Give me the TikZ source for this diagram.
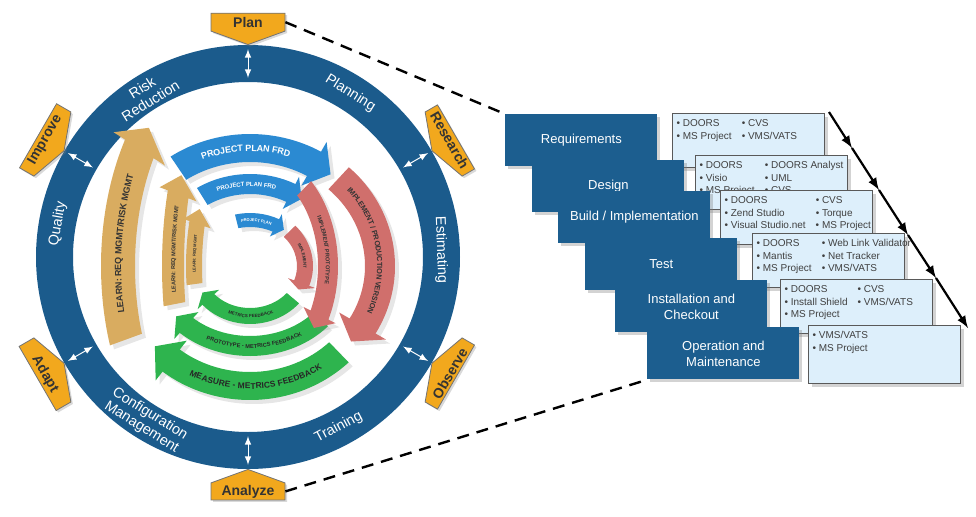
\documentclass[tikz,border=0pt]{standalone}
\usepackage{fontspec}
\setmainfont{Liberation Sans}
\usetikzlibrary{shapes.symbols, arrows, shadows, decorations.text}

\definecolor{ringblue}{HTML}{1B5B8C}
\definecolor{stageblue}{HTML}{1C5E8F}
\definecolor{tagorange}{HTML}{F2A81D}
\definecolor{toolfill}{HTML}{DDEFFB}
\definecolor{planblue}{HTML}{2B8AD2}
\definecolor{buildred}{HTML}{D06F6C}
\definecolor{metricgreen}{HTML}{2EB44E}
\definecolor{learntan}{HTML}{D9AC60}

% curved band arrow: colour, x radius, y radius, half width, start, end, tip
\newcommand{\bandarrow}[7]{%
  \fill[#1, arrowshadow]
    (#5:{#2+#4} and {#3+#4}) arc[start angle=#5, end angle=#6, x radius={#2+#4}, y radius={#3+#4}]
    -- (#6:{#2+1.8*#4} and {#3+1.8*#4}) -- (#7:#2 and #3)
    -- (#6:{#2-1.8*#4} and {#3-1.8*#4}) -- (#6:{#2-#4} and {#3-#4})
    arc[start angle=#6, end angle=#5, x radius={#2-#4}, y radius={#3-#4}] -- cycle;}
% text on a band: x radius, y radius, from, to, raise, format, text
\newcommand{\bandtext}[7]{%
  \path[decorate, decoration={text along path, text align=center, raise=#5, text={|#6|#7}}]
    (#3:#1 and #2) arc[start angle=#3, end angle=#4, x radius=#1, y radius=#2];}
\newcommand{\toollist}[2][23pt]{\parbox[c][#1][t]{72pt}{\fontsize{5}{6.3}\selectfont
  \begin{tabular}{@{}l@{\hspace{5pt}}l@{}}#2\end{tabular}}}

\begin{document}
\begin{tikzpicture}[x=.5pt, y=.5pt]

\tikzstyle{ringlabel} = [text=white, font=\fontsize{7.2}{7.8}\selectfont, align=center, inner sep=1pt]
\tikzstyle{tag} = [shape=signal, signal from=nowhere, signal pointer angle=140, fill=tagorange, draw=black!55, line width=.4pt, text=black!80, font=\bfseries\fontsize{7}{7}\selectfont, minimum width=37pt, minimum height=12pt, inner sep=1pt, drop shadow={shadow xshift=1pt, shadow yshift=-1pt, opacity=.3}]
\tikzstyle{ringarrow} = [<->, >=latex, white, line width=.5pt]
\tikzstyle{arrowshadow} = [drop shadow={shadow xshift=2pt, shadow yshift=-2pt, opacity=.2}]
\tikzstyle{stage} = [anchor=north west, fill=stageblue, text=white, font=\fontsize{6.5}{8}\selectfont, align=center, minimum width=76pt, minimum height=26pt, inner sep=1pt, drop shadow={shadow xshift=1.5pt, shadow yshift=-1.5pt, opacity=.35}]
\tikzstyle{tools} = [anchor=north west, fill=toolfill, draw=black!65, line width=.6pt, inner sep=2pt, text=black!75, drop shadow={shadow xshift=1.5pt, shadow yshift=-1.5pt, opacity=.35}]
\tikzstyle{linkdash} = [dash pattern=on 6pt off 4pt, line width=1.2pt]
\tikzstyle{flow} = [->, >=latex, line width=1.1pt]

\useasboundingbox (0,0) rectangle (976,516);

\coordinate (hub) at (248,259);
\coordinate (ahub) at (250,250);

\fill[ringblue, even odd rule] (hub) circle[radius=212] (hub) circle[radius=175];

\begin{scope}[shift={(hub)}]
\foreach \a in {90,30,-30,-90,210,150}
  \draw[ringarrow] (\a:208) -- (\a:179);

\node[ringlabel, rotate=32] (risk) at (122:192) {Risk\\Reduction};
\node[ringlabel, rotate=-32] (planning) at (58:193) {Planning};
\node[ringlabel, rotate=-88] (estimating) at (2:193) {Estimating};
\node[ringlabel, rotate=80] (quality) at (170:193) {Quality};
\node[ringlabel, rotate=-32] (config) at (238:193) {Configuration\\Management};
\node[ringlabel, rotate=28] (training) at (298:193) {Training};

\node[tag, signal to=south, anchor=south] (plan) at (90:212) {Plan};
\node[tag, signal to=south, anchor=south, rotate=-60] (research) at (30:212) {Research};
\node[tag, signal to=south, anchor=south, rotate=60] (improve) at (150:212) {Improve};
\node[tag, signal to=north, anchor=north, rotate=60] (observe) at (-30:212) {Observe};
\node[tag, signal to=north, anchor=north, rotate=-60] (adapt) at (210:212) {Adapt};
\node[tag, signal to=north, anchor=north] (analyze) at (-90:212) {Analyze};
\end{scope}

\begin{scope}[shift={(ahub)}]
\bandarrow{learntan}{132}{215}{17}{200}{147}{140}
\bandarrow{learntan}{77}{200}{11}{191}{159}{153}
\bandarrow{learntan}{56}{130}{8}{188}{161}{154}
\bandarrow{planblue}{128}{118}{14}{124}{60}{51}
\bandarrow{planblue}{90}{82}{10}{122}{63}{55}
\bandarrow{planblue}{55}{46}{7}{104}{62}{52}
\bandarrow{metricgreen}{128}{120}{14}{-46}{-128}{-138}
\bandarrow{metricgreen}{95}{80}{10}{-42}{-132}{-141}
\bandarrow{metricgreen}{56}{50}{8}{-40}{-138}{-148}
\bandarrow{buildred}{130}{120}{15}{47}{-30}{-39}
\bandarrow{buildred}{78}{108}{10}{46}{-27}{-35}
\bandarrow{buildred}{55}{50}{8}{44}{-20}{-28}

\bandtext{132}{215}{199}{148}{-1.6pt}{\bfseries\fontsize{4.5}{4.5}\selectfont\color{black!80}}{LEARN: REQ MGMT/RISK MGMT}
\bandtext{77}{200}{190}{160}{-1.1pt}{\bfseries\fontsize{2.8}{2.8}\selectfont\color{black!80}}{LEARN: REQ MGMT/RISK MGMT}
\bandtext{56}{130}{187}{162}{-.8pt}{\bfseries\fontsize{2}{2}\selectfont\color{black!80}}{LEARN: REQ MGMT}
\bandtext{128}{118}{123}{61}{-1.6pt}{\bfseries\fontsize{4.5}{4.5}\selectfont\color{white}}{PROJECT PLAN FRD}
\bandtext{90}{82}{121}{64}{-1.1pt}{\bfseries\fontsize{3}{3}\selectfont\color{white}}{PROJECT PLAN FRD}
\bandtext{55}{46}{103}{63}{-.8pt}{\bfseries\fontsize{2}{2}\selectfont\color{white}}{PROJECT PLAN}
\bandtext{128}{120}{-127}{-47}{-1.5pt}{\bfseries\fontsize{4.2}{4.2}\selectfont\color{black!85}}{MEASURE - METRICS FEEDBACK}
\bandtext{95}{80}{-131}{-43}{-1.1pt}{\bfseries\fontsize{2.8}{2.8}\selectfont\color{black!85}}{PROTOTYPE - METRICS FEEDBACK}
\bandtext{56}{50}{-137}{-41}{-.8pt}{\bfseries\fontsize{2.2}{2.2}\selectfont\color{black!85}}{METRICS FEEDBACK}
\bandtext{130}{120}{46}{-29}{-1.4pt}{\bfseries\fontsize{3.7}{3.7}\selectfont\color{black!80}}{IMPLEMENT / PRODUCTION VERSION}
\bandtext{78}{108}{45}{-26}{-1.1pt}{\bfseries\fontsize{2.8}{2.8}\selectfont\color{black!80}}{IMPLEMENT PROTOTYPE}
\bandtext{55}{50}{43}{-19}{-.8pt}{\bfseries\fontsize{2.2}{2.2}\selectfont\color{black!80}}{IMPLEMENT}
\end{scope}

\node[stage] (req) at (505,402) {Requirements};
\node[tools] (reqtools) at (672,403) {\toollist{\textbullet{} DOORS & \textbullet{} CVS\\ \textbullet{} MS Project & \textbullet{} VMS/VATS}};
\node[stage] (des) at (532,356) {Design};
\node[tools] (destools) at (695,361) {\toollist{\textbullet{} DOORS & \textbullet{} DOORS Analyst\\ \textbullet{} Visio & \textbullet{} UML\\ \textbullet{} MS Project & \textbullet{} CVS}};
\node[stage] (bld) at (558,325) {Build / Implementation};
\node[tools] (bldtools) at (720,326) {\toollist{\textbullet{} DOORS & \textbullet{} CVS\\ \textbullet{} Zend Studio & \textbullet{} Torque\\ \textbullet{} Visual Studio.net & \textbullet{} MS Project}};
\node[stage] (tst) at (585,278) {Test};
\node[tools] (tsttools) at (752,283) {\toollist{\textbullet{} DOORS & \textbullet{} Web Link Validator\\ \textbullet{} Mantis & \textbullet{} Net Tracker\\ \textbullet{} MS Project & \textbullet{} VMS/VATS}};
\node[stage] (ins) at (615,236) {Installation and\\Checkout};
\node[tools] (instools) at (780,237) {\toollist{\textbullet{} DOORS & \textbullet{} CVS\\ \textbullet{} Install Shield & \textbullet{} VMS/VATS\\ \textbullet{} MS Project & }};
\node[stage] (opm) at (647,189) {Operation and\\Maintenance};
\node[tools] (opmtools) at (808,191) {\toollist[25pt]{\textbullet{} VMS/VATS & \\ \textbullet{} MS Project & }};

\coordinate (w0) at (829,404);
\coordinate (w1) at (852,368);
\coordinate (w2) at (879,326);
\coordinate (w3) at (908,281);
\coordinate (w4) at (936,238);
\coordinate (w5) at (968,188);
\foreach \a/\b in {w0/w1, w1/w2, w2/w3, w3/w4, w4/w5}
  \draw[flow] (\a) -- (\b);

\draw[linkdash] (plan.east) -- (req.north west);
\draw[linkdash] (analyze.east) -- (opm.south west);
\end{tikzpicture}
\end{document}
